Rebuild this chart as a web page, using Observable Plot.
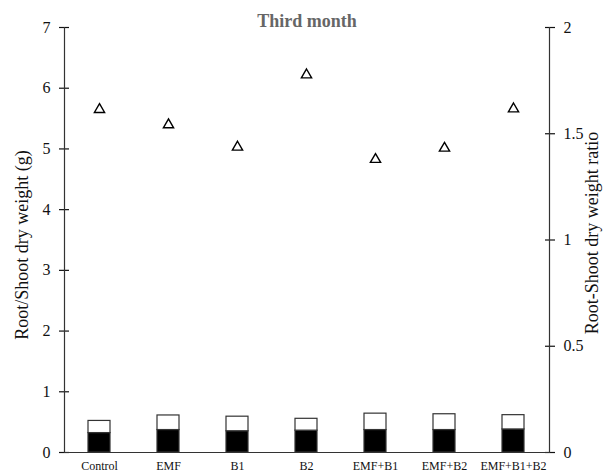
<!DOCTYPE html>
<html>
<head>
<meta charset="utf-8">
<script src="https://cdn.jsdelivr.net/npm/d3@7"></script>
<script src="https://cdn.jsdelivr.net/npm/@observablehq/plot@0.6"></script>
<style>
  html, body { margin: 0; padding: 0; background: #fff; }
  svg { font-family: "Liberation Serif", "Times New Roman", serif; }
</style>
</head>
<body>
<div id="chart"></div>
<script>
const treatments = ["Control", "EMF", "B1", "B2", "EMF+B1", "EMF+B2", "EMF+B1+B2"];
const rootWeight = [0.32, 0.37, 0.35, 0.36, 0.37, 0.37, 0.38];
const shootWeight = [0.20, 0.24, 0.24, 0.195, 0.27, 0.26, 0.235];
const ratio = [1.614, 1.542, 1.437, 1.777, 1.379, 1.432, 1.617];
const leftTicks = [0, 1, 2, 3, 4, 5, 6, 7];
const rightTicks = [0, 0.5, 1, 1.5, 2];
const yMax = 7, ratioMax = 2;
const k = yMax / ratioMax;

const stacked = [];
treatments.forEach((t, i) => {
  stacked.push({treatment: t, part: "Root", value: rootWeight[i]});
  stacked.push({treatment: t, part: "Shoot", value: shootWeight[i]});
});
const ratioData = treatments.map((t, i) => ({treatment: t, ratio: ratio[i], scaled: ratio[i] * k}));

const plot = Plot.plot({
  width: 606,
  height: 476,
  marginLeft: 64,
  marginRight: 57,
  marginTop: 27,
  marginBottom: 24,
  style: {fontFamily: "Liberation Serif, Times New Roman, serif", color: "#111", background: "#fff"},
  x: {domain: treatments, paddingInner: 0.68, paddingOuter: 0.34, label: null},
  y: {domain: [0, yMax], label: null},
  marks: [
    Plot.barY(stacked, {
      x: "treatment", y: "value", order: ["Root", "Shoot"],
      fill: d => d.part === "Root" ? "#000" : "#fff",
      stroke: "#333", strokeWidth: 1.2
    }),
    Plot.dot(ratioData, {x: "treatment", y: "scaled", symbol: "triangle", r: 3.8, stroke: "#000", fill: "#fff", strokeWidth: 1.4}),
    Plot.axisY(leftTicks, {anchor: "left", tickSize: 5, tickPadding: 9, fontSize: 16, tickFormat: d => d, label: null, strokeWidth: 1.2}),
    Plot.axisY(leftTicks, {anchor: "left", tickSize: -5, text: null, label: null, strokeWidth: 1.2}),
    Plot.axisY(rightTicks.map(t => t * k), {anchor: "right", tickSize: 5, tickPadding: 9, fontSize: 16, tickFormat: d => d / k, label: null, strokeWidth: 1.2}),
    Plot.axisY(rightTicks.map(t => t * k), {anchor: "right", tickSize: -5, text: null, label: null, strokeWidth: 1.2}),
    Plot.axisX({anchor: "bottom", tickSize: 0, tickPadding: 9, fontSize: 12, label: null}),
    Plot.ruleY([0], {stroke: "#333", strokeWidth: 1.2}),
    Plot.frame({anchor: "left", stroke: "#333", strokeWidth: 1.2}),
    Plot.frame({anchor: "right", stroke: "#333", strokeWidth: 1.2}),
    Plot.text(["Root/Shoot dry weight (g)"], {frameAnchor: "left", dx: -42, dy: 5, rotate: -90, textAnchor: "middle", fontSize: 18, fill: "#111"}),
    Plot.text(["Root-Shoot dry weight ratio"], {frameAnchor: "right", dx: 43, dy: -7, rotate: -90, textAnchor: "middle", fontSize: 18, fill: "#111"}),
    Plot.text(["Third month"], {frameAnchor: "top", dy: -13, textAnchor: "middle", fontSize: 18, fontWeight: "bold", fill: "#666"})
  ]
});
document.getElementById("chart").appendChild(plot);
</script>
</body>
</html>
